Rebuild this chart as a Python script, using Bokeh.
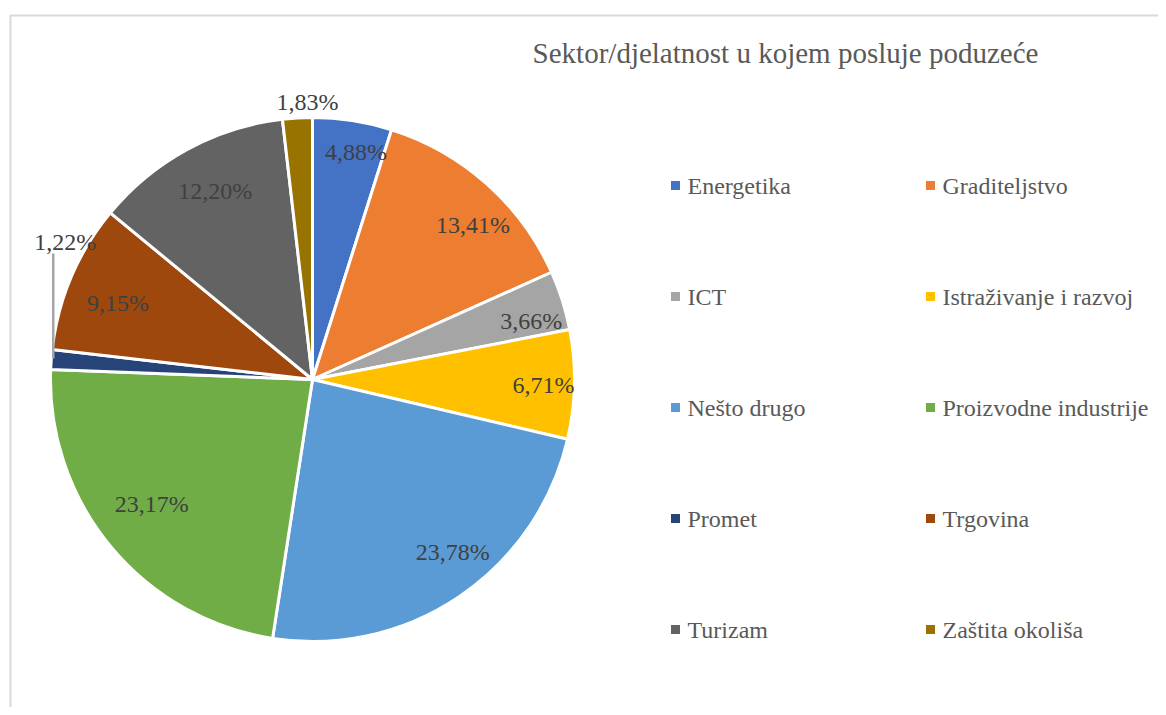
import math
from bokeh.plotting import figure
from bokeh.models import Range1d, ColumnDataSource
from bokeh.core.properties import value
from bokeh.embed import file_html
from bokeh.resources import INLINE

# ---------------- data ----------------
title = "Sektor/djelatnost u kojem posluje poduzeće"
categories = ["Energetika", "Graditeljstvo", "ICT", "Istraživanje i razvoj",
              "Nešto drugo", "Proizvodne industrije", "Promet", "Trgovina",
              "Turizam", "Zaštita okoliša"]
shares = [4.88, 13.41, 3.66, 6.71, 23.78, 23.17, 1.22, 9.15, 12.20, 1.83]
colors = ["#4472C4", "#ED7D31", "#A5A5A5", "#FFC000", "#5B9BD5",
          "#70AD47", "#264478", "#9E480E", "#636363", "#997300"]

# ---------------- layout / style ----------------
W, H = 1158, 707
FONT_NAME = "Liberation Serif"
CX, CY, R = 312, -379, 262          # pie centre / radius (screen px, y flipped)
LABEL_R = 0.84
# per-label nudges (px, image y-down) to mimic Excel "best fit" placement
LABEL_NUDGE = [(10, -10), (14, 10), (9, 8), (11, 1), (17, -10),
               (9, -16), None, (8, 10), (8, 5), None]
OUTSIDE = {6: "leader", 9: "outer"}

p = figure(width=W, height=H, x_range=Range1d(0, W), y_range=Range1d(-H, 0),
           output_backend="svg", toolbar_location=None, min_border=0,
           x_axis_type=None, y_axis_type=None)
p.grid.visible = False
p.outline_line_color = None
p.background_fill_color = "white"
p.border_fill_color = "white"

# chart frame (cropped at right / bottom)
p.line(x=[10, 10, 1180], y=[-730, -15, -15], line_color="#D9D9D9", line_width=2)

# ---------------- pie ----------------
total = sum(shares)
starts, ends, mids = [], [], []
cum = 0.0
for v in shares:
    a0 = math.pi / 2 - 2 * math.pi * cum / total
    cum += v
    a1 = math.pi / 2 - 2 * math.pi * cum / total
    starts.append(a0)
    ends.append(a1)
    mids.append((a0 + a1) / 2)

src = ColumnDataSource(dict(start=starts, end=ends, color=colors, cat=categories))
p.wedge(x=CX, y=CY, radius=R, start_angle="start", end_angle="end",
        direction="clock", fill_color="color", line_color="white",
        line_width=3, source=src)

# ---------------- data labels ----------------
lab_txt = [f"{v:.2f}".replace(".", ",") + "%" for v in shares]
lx, ly, lt = [], [], []
for i, m in enumerate(mids):
    if i in OUTSIDE:
        ex, ey = CX + R * math.cos(m), CY + R * math.sin(m)
        if OUTSIDE[i] == "leader":
            p.line(x=[ex + 2, ex + 2], y=[ey + 1, ey + 106],
                   line_color="#A6A6A6", line_width=2.5)
            lx.append(ex + 14)
            ly.append(ey + 118)
        else:
            lx.append(ex + 10)
            ly.append(ey + 16)
    else:
        dx, dy = LABEL_NUDGE[i]
        lx.append(CX + LABEL_R * R * math.cos(m) + dx)
        ly.append(CY + LABEL_R * R * math.sin(m) - dy)
    lt.append(lab_txt[i])

lab_src = ColumnDataSource(dict(x=lx, y=ly, text=lt))
p.text(x="x", y="y", text="text", source=lab_src, text_align="center",
       text_baseline="middle", text_font=value(FONT_NAME),
       text_font_size=value("24px"), text_color="#404040")

# ---------------- title ----------------
p.text(x=[785], y=[-52], text=[title], text_align="center", text_baseline="middle",
       text_font=value(FONT_NAME), text_font_size=value("29px"), text_color="#595959")

# ---------------- legend ----------------
LEG_COL_X = [675, 930]
LEG_ROW_Y = [185, 296, 407, 518, 629]
mx, my, tx, ty = [], [], [], []
for i, c in enumerate(categories):
    col, row = i % 2, i // 2
    mx.append(LEG_COL_X[col])
    my.append(-LEG_ROW_Y[row])
    tx.append(LEG_COL_X[col] + 12)
    ty.append(-LEG_ROW_Y[row])
p.scatter(x=mx, y=my, marker="square", size=9, fill_color=colors, line_color=None)
leg_src = ColumnDataSource(dict(x=tx, y=ty, text=categories))
p.text(x="x", y="y", text="text", source=leg_src, text_align="left",
       text_baseline="middle", text_font=value(FONT_NAME),
       text_font_size=value("24px"), text_color="#595959")

open("out.html", "w").write(file_html(p, INLINE))
